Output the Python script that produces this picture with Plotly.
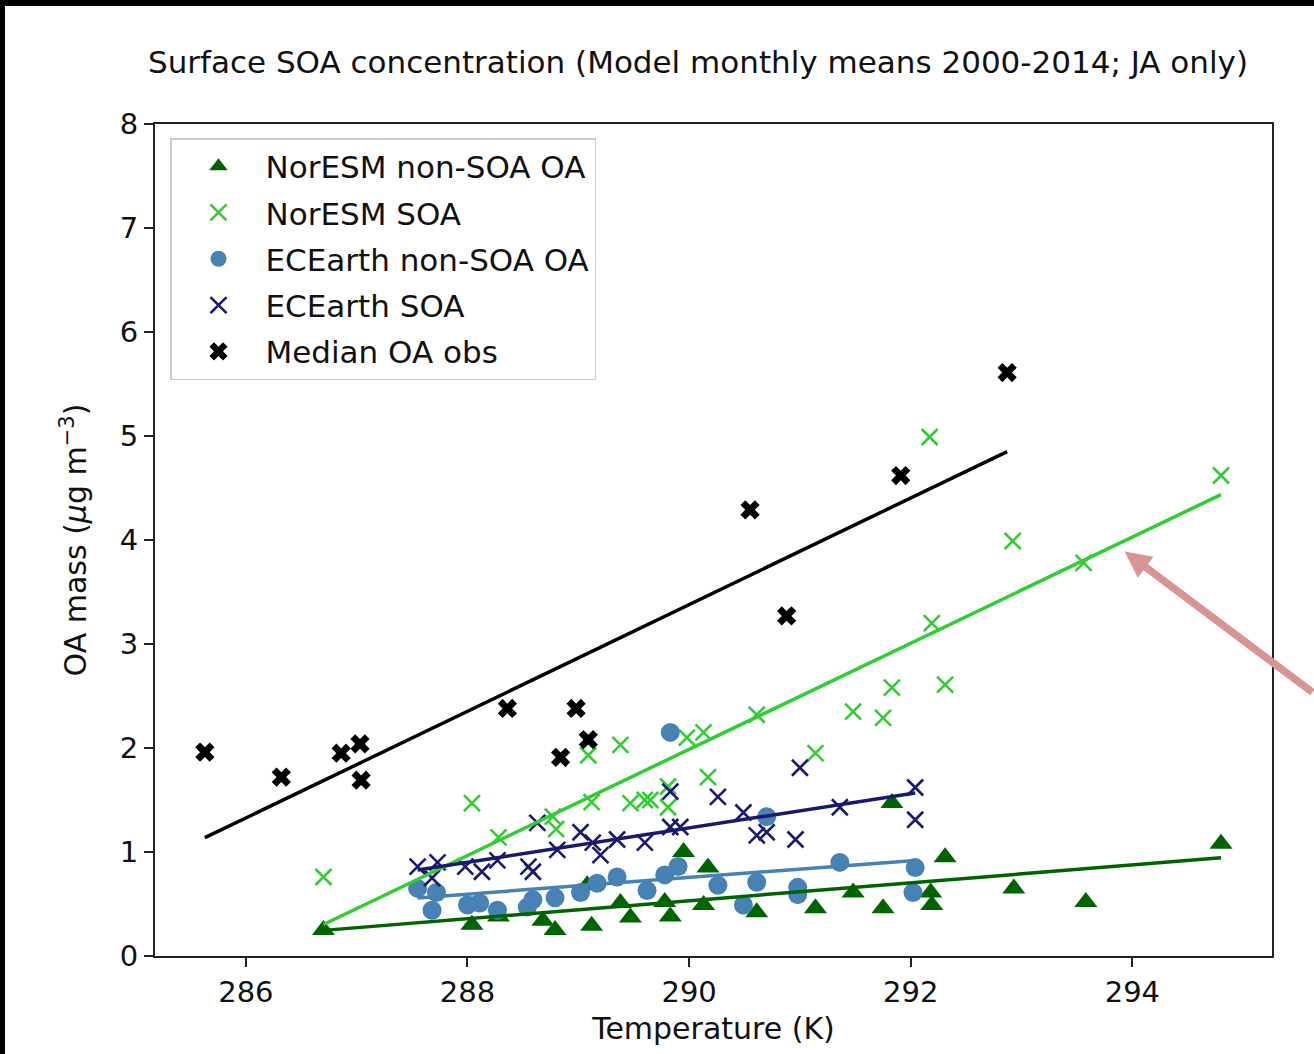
import numpy as np
import plotly.graph_objects as go

# ---------------- data ----------------
obs_T = [285.63, 286.32, 286.86, 287.03, 287.04, 288.36, 288.84, 288.98, 289.09,
         290.55, 290.88, 291.91, 292.87]
obs_OA = [1.96, 1.72, 1.95, 2.04, 1.69, 2.38, 1.91, 2.38, 2.08,
          4.29, 3.27, 4.62, 5.61]

nor_soa_T = [286.70, 288.04, 288.28, 288.77, 288.80, 289.09, 289.38, 289.12, 289.47,
             289.60, 289.65, 289.81, 289.81, 289.98, 290.13, 290.17, 290.61, 291.14,
             291.48, 291.75, 291.83, 292.17, 292.19, 292.31, 292.92, 293.56, 294.80]
nor_soa = [0.76, 1.47, 1.14, 1.34, 1.22, 1.93, 2.03, 1.48, 1.47,
           1.50, 1.50, 1.63, 1.43, 2.10, 2.15, 1.72, 2.32, 1.95,
           2.35, 2.29, 2.58, 4.99, 3.20, 2.61, 3.99, 3.78, 4.62]

nor_oa_T = [286.70, 288.04, 288.28, 288.68, 288.79, 289.12, 289.08, 289.38, 289.47,
            289.78, 289.83, 289.95, 290.13, 290.17, 290.61, 291.14, 291.48, 291.75,
            291.83, 292.18, 292.19, 292.31, 292.93, 293.58, 294.80]
nor_oa = [0.25, 0.30, 0.38, 0.34, 0.25, 0.29, 0.68, 0.51, 0.37,
          0.52, 0.38, 1.00, 0.49, 0.85, 0.42, 0.46, 0.61, 0.46,
          1.47, 0.61, 0.49, 0.95, 0.65, 0.52, 1.08]

ec_oa_T = [287.55, 287.68, 287.72, 288.00, 288.11, 288.27, 288.54, 288.59, 288.79,
           289.02, 289.17, 289.35, 289.62, 289.78, 289.90, 289.83, 290.26, 290.49,
           290.61, 290.70, 290.98, 290.98, 291.36, 292.04, 292.02]
ec_oa = [0.65, 0.44, 0.61, 0.49, 0.51, 0.44, 0.47, 0.54, 0.56,
         0.61, 0.70, 0.76, 0.63, 0.78, 0.86, 2.15, 0.68, 0.49,
         0.71, 1.34, 0.66, 0.59, 0.90, 0.85, 0.61]

ec_soa_T = [287.55, 287.73, 287.68, 287.98, 288.13, 288.27, 288.55, 288.59, 288.63,
            288.81, 289.02, 289.13, 289.20, 289.35, 289.60, 289.83, 289.83, 289.92,
            290.26, 290.49, 290.61, 290.70, 290.96, 291.00, 291.36, 292.04, 292.04]
ec_soa = [0.86, 0.90, 0.75, 0.86, 0.81, 0.92, 0.86, 0.81, 1.28,
          1.02, 1.19, 1.09, 0.97, 1.12, 1.09, 1.58, 1.24, 1.24,
          1.53, 1.38, 1.16, 1.19, 1.12, 1.81, 1.43, 1.62, 1.31]

x_ticks = [286, 288, 290, 292, 294]
y_ticks = [0, 1, 2, 3, 4, 5, 6, 7, 8]

# ---------------- layout geometry ----------------
W, H = 1314, 1054
ML, MR, MT, MB = 155, 42, 124, 98
PW, PH = W - ML - MR, H - MT - MB


def px_x(p):
    return (p - ML) / PW


def px_y(p):
    return (H - MB - p) / PH


FONT = "DejaVu Sans"
FS = 29

fig = go.Figure()

series = [
    ("NorESM non-SOA OA", nor_oa_T, nor_oa, "#006400",
     dict(symbol="triangle-up", size=20, color="#006400")),
    ("NorESM SOA", nor_soa_T, nor_soa, "#32CD32",
     dict(symbol="x-thin-open", size=16, color="#32CD32",
          line=dict(color="#32CD32", width=2.6))),
    ("ECEarth non-SOA OA", ec_oa_T, ec_oa, "#4682B4",
     dict(symbol="circle", size=19, color="#4682B4")),
    ("ECEarth SOA", ec_soa_T, ec_soa, "#191970",
     dict(symbol="x-thin-open", size=16, color="#191970",
          line=dict(color="#191970", width=2.6))),
    ("Median OA obs", obs_T, obs_OA, "#000000",
     dict(symbol="x", size=17, color="#000000")),
]

for i, (name, xs, ys, col, mk) in enumerate(series):
    fig.add_trace(go.Scatter(x=xs, y=ys, mode="markers", name=name, marker=mk,
                             legendgroup="g%d" % i, showlegend=True))

# regression lines
for i, (name, xs, ys, col, mk) in enumerate(series):
    a, b = np.polyfit(np.array(xs), np.array(ys), 1)
    xl = np.array([min(xs), max(xs)])
    fig.add_trace(go.Scatter(x=xl, y=a * xl + b, mode="lines",
                             line=dict(color=col, width=3.5),
                             showlegend=False, hoverinfo="skip"))

# arrow annotation (pink)
fig.add_annotation(x=293.93, y=3.89, xref="x", yref="y", text="",
                   showarrow=True, arrowhead=2, arrowsize=0.7, arrowwidth=7.5,
                   arrowcolor="#D99594", ax=212, ay=142, axref="pixel", ayref="pixel")

# black frame strips at top and left edges of the picture
fig.add_shape(type="rect", xref="paper", yref="paper",
              x0=px_x(0), x1=px_x(W), y0=px_y(6), y1=px_y(0),
              fillcolor="black", line=dict(width=0), layer="above")
fig.add_shape(type="rect", xref="paper", yref="paper",
              x0=px_x(0), x1=px_x(5), y0=px_y(H), y1=px_y(0),
              fillcolor="black", line=dict(width=0), layer="above")

fig.update_layout(
    width=W, height=H,
    margin=dict(l=ML, r=MR, t=MT, b=MB),
    paper_bgcolor="white", plot_bgcolor="white",
    font=dict(family=FONT, size=FS, color="#111"),
    title=dict(text="Surface SOA concentration (Model monthly means 2000-2014; JA only)",
               x=px_x(698), xref="paper", xanchor="center",
               y=1 - 62 / H, yanchor="middle", font=dict(size=31)),
    legend=dict(x=px_x(170), y=px_y(138), xanchor="left", yanchor="top",
                bgcolor="white", bordercolor="#cccccc", borderwidth=1.5,
                font=dict(size=31), tracegroupgap=3, itemwidth=84),
    showlegend=True,
)

fig.update_xaxes(range=[285.18, 295.26], tickvals=x_ticks,
                 ticktext=[str(v) for v in x_ticks],
                 showgrid=False, zeroline=False, showline=True, linecolor="#222",
                 linewidth=2, mirror=True, ticks="outside", ticklen=9, tickwidth=2,
                 tickcolor="#222",
                 title=dict(text="Temperature (K)", standoff=10, font=dict(size=30)))
fig.update_yaxes(range=[0, 8], tickvals=y_ticks,
                 ticktext=[str(v) for v in y_ticks],
                 showgrid=False, zeroline=False, showline=True, linecolor="#222",
                 linewidth=2, mirror=True, ticks="outside", ticklen=9, tickwidth=2,
                 tickcolor="#222",
                 title=dict(text="OA mass (<i>μ</i>g m<sup>−3</sup>)", standoff=24,
                            font=dict(size=30)))

fig.write_html("out.html")
